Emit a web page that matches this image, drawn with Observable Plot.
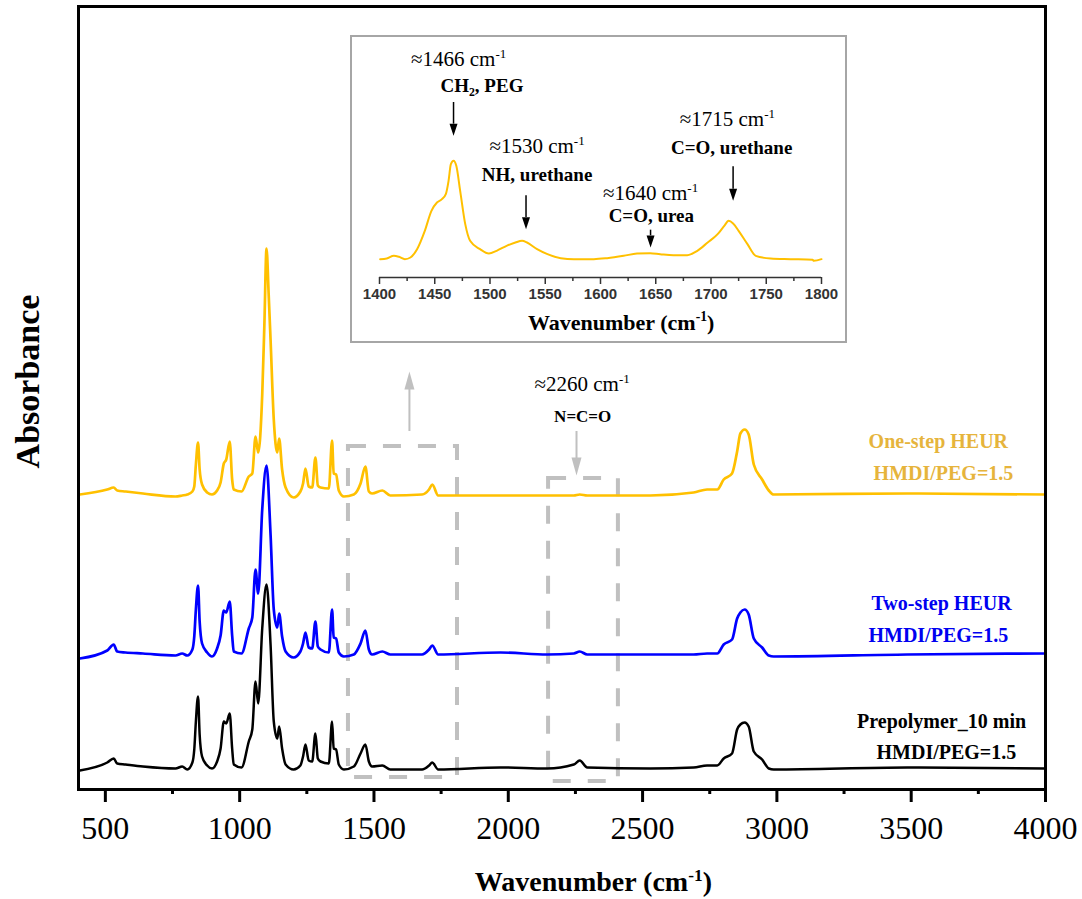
<!DOCTYPE html>
<html>
<head>
<meta charset="utf-8">
<script src="https://cdn.jsdelivr.net/npm/d3@7"></script>
<script src="https://cdn.jsdelivr.net/npm/@observablehq/plot@0.6"></script>
<style>
  body { margin: 0; background: white; }
  #wrap { position: relative; width: 1082px; height: 899px; }
  #inset { position: absolute; left: 350px; top: 35px; width: 497px; height: 308px;
           border: 2px solid #a6a6a6; box-sizing: border-box; background: white; }
</style>
</head>
<body>
<div id="wrap"><div id="main"></div><div id="inset"></div></div>
<script>
// ---------- data (wavenumber cm-1, absorbance a.u.) ----------
const prepolymer = [[405,.19],[507,.27],[531,.31],[544,.26],[575,.25],[640,.23],[761,.21],[786,.23],[805,.20],[824,.27],[831,.40],[837,.68],[845,.93],[851,.55],[860,.33],[879,.24],[897,.21],[916,.28],[929,.41],[941,.68],[950,.66],[963,.76],[972,.41],[978,.25],[1007,.22],[1034,.48],[1047,.60],[1059,1.08],[1069,.86],[1084,1.61],[1100,2.05],[1115,1.45],[1127,.68],[1140,.51],[1147,.63],[1158,.41],[1171,.25],[1201,.20],[1226,.24],[1236,.33],[1245,.45],[1257,.29],[1270,.28],[1282,.56],[1291,.31],[1301,.28],[1332,.26],[1344,.68],[1350,.41],[1359,.40],[1369,.25],[1388,.20],[1425,.23],[1450,.36],[1468,.45],[1481,.28],[1493,.23],[1531,.24],[1561,.20],[1679,.20],[1705,.24],[1717,.27],[1739,.20],[1971,.22],[2145,.21],[2244,.25],[2266,.29],[2294,.22],[2529,.21],[2690,.22],[2740,.24],[2778,.24],[2802,.31],[2833,.36],[2852,.60],[2864,.65],[2880,.67],[2895,.63],[2914,.38],[2945,.30],[2970,.21],[2988,.20],[3485,.22],[4000,.21]];
const twoStep = [[405,1.31],[507,1.39],[531,1.45],[544,1.38],[575,1.37],[640,1.36],[761,1.34],[786,1.36],[805,1.34],[824,1.40],[831,1.53],[837,1.80],[845,2.04],[851,1.68],[860,1.46],[879,1.37],[897,1.33],[916,1.41],[929,1.54],[941,1.79],[950,1.77],[963,1.88],[972,1.54],[978,1.38],[1007,1.36],[1034,1.61],[1047,1.72],[1059,2.20],[1069,1.96],[1084,2.80],[1100,3.24],[1115,2.55],[1127,1.80],[1140,1.62],[1147,1.76],[1158,1.53],[1171,1.38],[1201,1.32],[1226,1.38],[1236,1.46],[1245,1.57],[1257,1.42],[1270,1.41],[1282,1.68],[1291,1.43],[1301,1.40],[1332,1.37],[1344,1.80],[1350,1.52],[1359,1.51],[1369,1.37],[1388,1.33],[1425,1.35],[1450,1.46],[1468,1.59],[1481,1.40],[1493,1.35],[1531,1.38],[1561,1.35],[1679,1.35],[1705,1.40],[1717,1.44],[1739,1.35],[1971,1.37],[2145,1.35],[2244,1.36],[2266,1.38],[2294,1.35],[2529,1.35],[2690,1.35],[2740,1.36],[2778,1.36],[2802,1.45],[2833,1.50],[2852,1.71],[2864,1.77],[2880,1.80],[2895,1.75],[2914,1.51],[2945,1.42],[2970,1.34],[2988,1.33],[3485,1.35],[4000,1.36]];
const oneStep = [[405,2.95],[507,3.00],[531,3.02],[544,2.99],[575,2.98],[640,2.96],[761,2.93],[786,2.94],[805,2.95],[824,2.98],[831,3.03],[837,3.25],[845,3.47],[851,3.20],[860,3.05],[879,2.97],[897,2.95],[916,2.99],[929,3.07],[941,3.26],[950,3.30],[963,3.48],[972,3.10],[978,3.00],[1007,2.98],[1034,3.13],[1047,3.16],[1059,3.53],[1069,3.37],[1084,3.95],[1092,4.65],[1100,5.41],[1108,4.95],[1115,4.50],[1127,3.70],[1140,3.37],[1147,3.51],[1158,3.20],[1171,3.02],[1201,2.92],[1226,2.98],[1236,3.06],[1245,3.21],[1257,3.03],[1270,3.02],[1282,3.32],[1291,3.04],[1301,3.02],[1332,3.01],[1344,3.49],[1350,3.16],[1359,3.15],[1369,2.99],[1388,2.93],[1425,2.95],[1450,3.06],[1468,3.23],[1481,2.98],[1493,2.96],[1531,2.99],[1561,2.94],[1679,2.95],[1705,3.00],[1717,3.05],[1739,2.94],[1971,2.94],[2145,2.94],[2244,2.94],[2266,2.95],[2294,2.94],[2529,2.94],[2690,2.97],[2740,3.00],[2778,3.00],[2802,3.10],[2833,3.16],[2852,3.38],[2864,3.56],[2880,3.60],[2895,3.55],[2914,3.25],[2945,3.10],[2970,2.99],[2988,2.95],[3485,2.96],[4000,2.95]];
const insetOneStep = [[1400.6,.55],[1406.6,.57],[1413,.65],[1417.6,.62],[1423,.55],[1428,.60],[1434,.85],[1441,1.40],[1447,2.00],[1452,2.25],[1456.5,2.35],[1460,2.50],[1462.5,2.90],[1464.6,3.40],[1467,3.50],[1469.5,3.35],[1473,2.60],[1477.6,1.60],[1482,1.10],[1491,.85],[1499,.72],[1506,.80],[1515,.95],[1523,1.05],[1529,1.10],[1533.5,1.05],[1542.6,.85],[1552,.70],[1564,.58],[1576,.55],[1594,.55],[1606,.58],[1621,.65],[1633,.72],[1645,.73],[1654,.70],[1666,.67],[1678.5,.67],[1687.6,.80],[1697,1.05],[1706,1.30],[1712,1.55],[1716,1.70],[1720,1.62],[1725,1.40],[1733,1.00],[1740.5,.65],[1754,.57],[1772,.55],[1792,.53],[1793,.50],[1800,.55]];

const seriesNames = ["One-step HEUR", "Two-step HEUR", "Prepolymer_10 min"];
const ratioLabel = "HMDI/PEG=1.5";
const xTicks = [500, 1000, 1500, 2000, 2500, 3000, 3500, 4000];
const xMinorTicks = [750, 1250, 1750, 2250, 2750, 3250, 3750];
const insetTicks = [1400, 1450, 1500, 1550, 1600, 1650, 1700, 1750, 1800];
const insetMinorTicks = [1425, 1475, 1525, 1575, 1625, 1675, 1725, 1775];
const zoomedRegions = [[1405, 1811], [2150, 2410]];
const peakCentres = ["≈1466 cm-1", "≈1530 cm-1", "≈1640 cm-1", "≈1715 cm-1"];
const peakGroups = ["CH2, PEG", "NH, urethane", "C=O, urea", "C=O, urethane"];
const isocyanatePeak = ["≈2260 cm-1", "N=C=O"];
const xTitle = "Wavenumber (cm-1)";
const yTitle = "Absorbance";

// ---------- helpers ----------
const serif = "'Liberation Serif','Times New Roman',serif";
const grey = "#c0c0c0";
const headDown = (w, h) => ({draw(c) { c.moveTo(0, 0); c.lineTo(-w/2, -h); c.lineTo(w/2, -h); c.closePath(); }});
const headUp = (w, h) => ({draw(c) { c.moveTo(0, 0); c.lineTo(-w/2, h); c.lineTo(w/2, h); c.closePath(); }});
const X = d => d[0], Y = d => d[1];

function rich(root) {
  const ns = "http://www.w3.org/2000/svg";
  root.querySelectorAll("text").forEach(t => {
    if (t.children.length) return;
    const s = t.textContent;
    let m, kind;
    if ((m = s.match(/^(.*cm)(-1)(.*)$/))) kind = "sup";
    else if ((m = s.match(/^(.*CH)(2)(.*)$/))) kind = "sub";
    else return;
    const fs = parseFloat(getComputedStyle(t).fontSize);
    const sh = kind === "sup" ? -0.38 * fs : 0.22 * fs;
    t.textContent = "";
    const a = document.createElementNS(ns, "tspan"); a.textContent = m[1]; t.appendChild(a);
    const b = document.createElementNS(ns, "tspan"); b.textContent = m[2];
    b.setAttribute("dy", sh); b.setAttribute("font-size", 0.62 * fs); t.appendChild(b);
    if (m[3]) { const c = document.createElementNS(ns, "tspan"); c.textContent = m[3]; c.setAttribute("dy", -sh); t.appendChild(c); }
  });
}

// ---------- main chart ----------
const boxes = zoomedRegions.map(([a, b], i) => ({x1: a, x2: b, y1: i ? 0.08 : 0.12, y2: i ? 3.11 : 3.43}));
const greyRules = [{x: 1632, y1: 3.58, y2: 4.02}, {x: 2254, y1: 3.58, y2: 3.30}];
const legend = [
  {t: seriesNames[0], x: 3601, y: 3.48, c: "#e6b43c"},
  {t: ratioLabel, x: 3620, y: 3.16, c: "#e6b43c"},
  {t: seriesNames[1], x: 3613, y: 1.86, c: "#0000f0"},
  {t: ratioLabel, x: 3601, y: 1.54, c: "#0000f0"},
  {t: seriesNames[2], x: 3613, y: 0.68, c: "#000"},
  {t: ratioLabel, x: 3631, y: 0.37, c: "#000"}
];

const main = Plot.plot({
  width: 1082, height: 899,
  marginLeft: 78, marginRight: 37, marginTop: 6, marginBottom: 110,
  x: {domain: [400, 4000], label: null},
  y: {domain: [0, 7.83], axis: null},
  style: {fontFamily: serif, background: "white", color: "black", overflow: "visible"},
  marks: [
    Plot.rect(boxes, {x1: "x1", x2: "x2", y1: "y1", y2: "y2", fill: "none", stroke: grey, strokeWidth: 4, strokeDasharray: "18,17"}),
    Plot.ruleX(greyRules, {x: "x", y1: "y1", y2: "y2", stroke: grey, strokeWidth: 2}),
    Plot.dot([[1632, 4.18]], {x: X, y: Y, symbol: headUp(10, 18), fill: grey, stroke: "none"}),
    Plot.dot([[2254, 3.14]], {x: X, y: Y, symbol: headDown(10, 18), fill: grey, stroke: "none"}),
    Plot.line(oneStep, {x: X, y: Y, stroke: "#ffc000", strokeWidth: 2.7, curve: "monotone-x"}),
    Plot.line(twoStep, {x: X, y: Y, stroke: "#0000ff", strokeWidth: 2.7, curve: "monotone-x"}),
    Plot.line(prepolymer, {x: X, y: Y, stroke: "#000", strokeWidth: 2.5, curve: "monotone-x"}),
    Plot.text(legend, {x: "x", y: "y", text: "t", fill: "c", fontSize: 20, fontWeight: "bold", lineAnchor: "middle"}),
    Plot.text([isocyanatePeak[0]], {x: 2275, y: 4.05, text: d => d, fontSize: 21, lineAnchor: "middle"}),
    Plot.text([isocyanatePeak[1]], {x: 2277, y: 3.73, text: d => d, fontSize: 17, fontWeight: "bold", lineAnchor: "middle"}),
    Plot.text([xTitle], {x: 2317, y: -0.93, text: d => d, fontSize: 28, fontWeight: "bold", lineAnchor: "middle"}),
    Plot.text([yTitle], {x: 214, y: 4.08, text: d => d, fontSize: 34, fontWeight: "bold", rotate: -90, lineAnchor: "middle"}),
    Plot.axisX(xMinorTicks, {tickSize: 5, strokeWidth: 3, tickFormat: () => ""}),
    Plot.axisX(xTicks, {tickSize: 13, strokeWidth: 3, tickPadding: 14, fontSize: 32, tickFormat: d => String(d)}),
    Plot.frame({strokeWidth: 3})
  ]
});
document.getElementById("main").appendChild(main);

// ---------- inset ----------
const arrowsIn = [
  {x: 1467, y1: 5.25, y2: 4.6, tip: 4.25},
  {x: 1532.6, y1: 2.45, y2: 1.8, tip: 1.45},
  {x: 1645.3, y1: 1.42, y2: 1.25, tip: 0.9},
  {x: 1720, y1: 3.32, y2: 2.65, tip: 2.30}
];
const centresPos = [[1471.6, 6.55], [1542.6, 3.95], [1645.3, 2.52], [1714.8, 4.75]];
const groupsPos = [[1492.7, 5.75], [1542.6, 3.08], [1646, 1.85], [1718.7, 3.90]];

const inset = Plot.plot({
  width: 493, height: 304,
  marginLeft: 27, marginRight: 24, marginTop: 0, marginBottom: 64,
  x: {domain: [1400, 1800], label: null},
  y: {domain: [0, 7.2], axis: null},
  style: {fontFamily: serif, background: "white", color: "black", overflow: "visible"},
  marks: [
    Plot.line(insetOneStep, {x: X, y: Y, stroke: "#ffc000", strokeWidth: 2, curve: "monotone-x"}),
    Plot.ruleX(arrowsIn, {x: "x", y1: "y1", y2: "y2", stroke: "#000", strokeWidth: 1.5}),
    Plot.dot(arrowsIn, {x: "x", y: "tip", symbol: headDown(8, 12), fill: "#000", stroke: "none"}),
    Plot.text(peakCentres, {x: (d, i) => centresPos[i][0], y: (d, i) => centresPos[i][1], text: d => d, fontSize: 21, lineAnchor: "middle"}),
    Plot.text(peakGroups, {x: (d, i) => groupsPos[i][0], y: (d, i) => groupsPos[i][1], text: d => d, fontSize: 19, fontWeight: "bold", lineAnchor: "middle"}),
    Plot.ruleY([0], {stroke: "#333", strokeWidth: 1.5}),
    Plot.axisX(insetMinorTicks, {tickSize: 4, stroke: "#333", strokeWidth: 1.5, tickFormat: () => ""}),
    Plot.axisX(insetTicks, {tickSize: 7, tickPadding: 4, stroke: "#333", strokeWidth: 1.5, fontSize: 15, fontWeight: "bold",
      fontFamily: "'Liberation Sans',Arial,sans-serif", fill: "#333", tickFormat: d => String(d)}),
    Plot.text([xTitle], {x: 1618.7, y: -1.35, text: d => d, fontSize: 22, fontWeight: "bold", lineAnchor: "middle"})
  ]
});
document.getElementById("inset").appendChild(inset);

rich(main);
rich(inset);
</script>
</body>
</html>
